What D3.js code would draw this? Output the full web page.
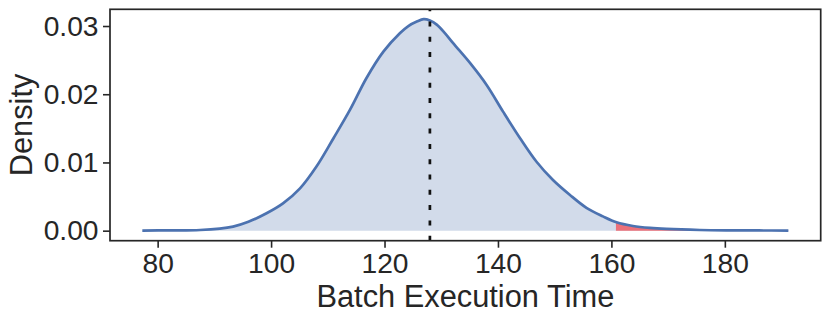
<!DOCTYPE html>
<html>
<head>
<meta charset="utf-8">
<script src="https://cdn.jsdelivr.net/npm/d3@7"></script>
<style>
body { margin: 0; background: #fff; }
</style>
</head>
<body>
<svg width="830" height="323"></svg>
<script>
// kde curve
const times = [77.3, 82, 87.5, 93.3, 96, 99.2, 102.1, 105.1, 108.0, 111.0, 113.9, 116.8, 119.8, 122.7, 124.2, 125.7, 126.9, 128.0, 129.2, 130.6, 132.1, 135.1, 138.0, 140.9, 143.9, 146.8, 149.7, 152.7, 155.6, 158.5, 160.9, 163.8, 166.8, 169.7, 175.6, 181.5, 186, 191.2];
const density = [0.00002, 0.00004, 0.0001, 0.0006, 0.0013, 0.00255, 0.0040, 0.0062, 0.0094, 0.01355, 0.0177, 0.02235, 0.02625, 0.02894, 0.0300, 0.03065, 0.0310, 0.0308, 0.0302, 0.0290, 0.02748, 0.02455, 0.02136, 0.01745, 0.01355, 0.0101, 0.00743, 0.00523, 0.00335, 0.0021, 0.00123, 0.00069, 0.0004, 0.00025, 0.0001, 0.00005, 0.00003, 0.00002];
const meanTime = 128;
const tailStart = 160.8;
const xTicks = [80, 100, 120, 140, 160, 180];
const yTicks = [0, 0.01, 0.02, 0.03];

let width = 830, height = 323;
let margin = ({top: 9.3, right: 9.3, bottom: 82.3, left: 110});
let font = "'Liberation Sans', Arial, sans-serif";
let ink = "#262626";

let data = times.map((t, i) => ({t, d: density[i]}));

let x = d3.scaleLinear([71.6, 196.9], [margin.left, width - margin.right]);
let y = d3.scaleLinear([-0.00147, 0.03245], [height - margin.bottom, margin.top]);

let svg = d3.select("svg");

svg.append("defs").append("clipPath")
    .attr("id", "tail")
    .append("rect")
    .attr("x", x(tailStart))
    .attr("y", margin.top)
    .attr("width", width - margin.right - x(tailStart))
    .attr("height", height - margin.top - margin.bottom);

let area = d3.area()
    .x(d => x(d.t))
    .y0(y(0))
    .y1(d => y(d.d))
    .curve(d3.curveCatmullRom.alpha(0.5));

let line = d3.line()
    .x(d => x(d.t))
    .y(d => y(d.d))
    .curve(d3.curveCatmullRom.alpha(0.5));

svg.append("path")
    .datum(data)
    .attr("fill", "#d2dbea")
    .attr("d", area);

svg.append("path")
    .datum(data)
    .attr("fill", "#ec7079")
    .attr("clip-path", "url(#tail)")
    .attr("d", area);

svg.append("path")
    .datum(data)
    .attr("fill", "none")
    .attr("stroke", "#4c72b0")
    .attr("stroke-width", 2.7)
    .attr("stroke-linejoin", "round")
    .attr("d", line);

// mean line, drawn bottom to top like axvline
svg.append("line")
    .attr("x1", x(meanTime)).attr("x2", x(meanTime))
    .attr("y1", height - margin.bottom).attr("y2", margin.top)
    .attr("stroke", "#111")
    .attr("stroke-width", 2.7)
    .attr("stroke-dasharray", "5,10.3");

let xAxis = svg.append("g")
    .attr("transform", `translate(0,${height - margin.bottom})`)
    .call(d3.axisBottom(x).tickValues(xTicks).tickSize(7).tickPadding(5.2).tickSizeOuter(0));

let yAxis = svg.append("g")
    .attr("transform", `translate(${margin.left},0)`)
    .call(d3.axisLeft(y).tickValues(yTicks).tickFormat(d3.format(".2f")).tickSize(7).tickPadding(4.5).tickSizeOuter(0));

for (const g of [xAxis, yAxis]) {
    g.select(".domain").remove();
    g.selectAll(".tick line").attr("stroke", ink).attr("stroke-width", 1.6);
    g.selectAll(".tick text")
        .attr("fill", ink)
        .attr("font-family", font)
        .attr("font-size", 28.2);
}

svg.append("rect")
    .attr("x", margin.left)
    .attr("y", margin.top)
    .attr("width", width - margin.left - margin.right)
    .attr("height", height - margin.top - margin.bottom)
    .attr("fill", "none")
    .attr("stroke", ink)
    .attr("stroke-width", 1.7);

svg.append("text")
    .attr("x", (margin.left + width - margin.right) / 2)
    .attr("y", 306.5)
    .attr("text-anchor", "middle")
    .attr("font-family", font)
    .attr("font-size", 30.8)
    .attr("fill", ink)
    .text("Batch Execution Time");

svg.append("text")
    .attr("transform", `translate(32,${(margin.top + height - margin.bottom) / 2}) rotate(-90)`)
    .attr("text-anchor", "middle")
    .attr("font-family", font)
    .attr("font-size", 30.8)
    .attr("fill", ink)
    .text("Density");
</script>
</body>
</html>
